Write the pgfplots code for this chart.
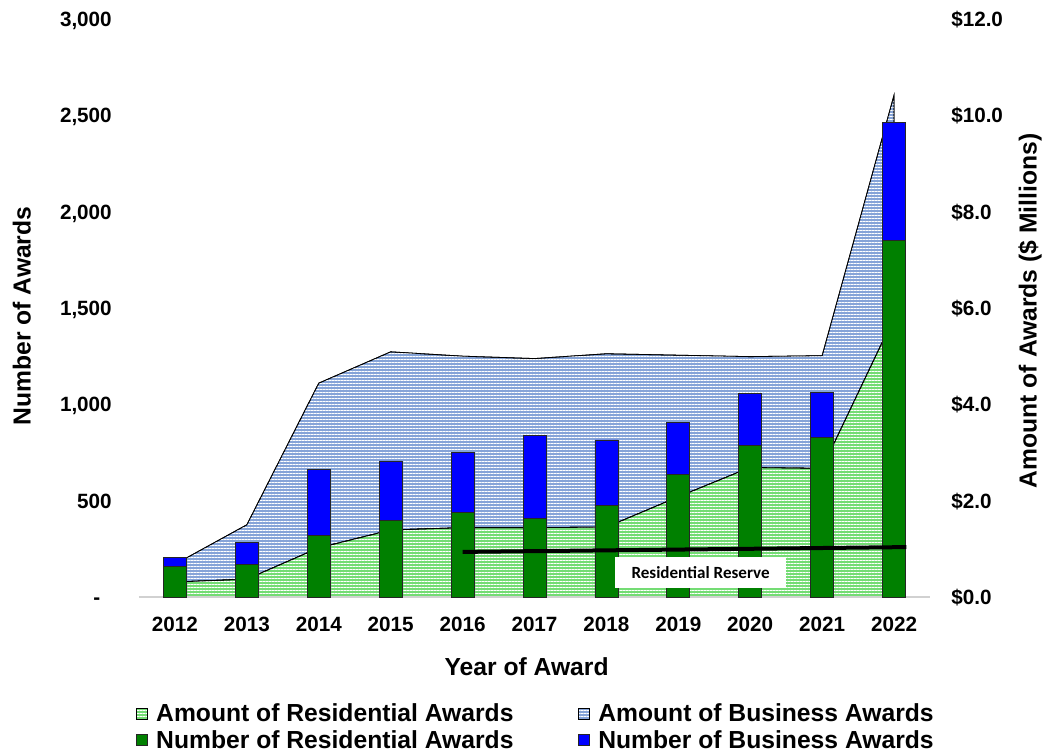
\documentclass[border=0pt]{standalone}
\usepackage{pgfplots}
\usepackage{pgfplotstable}
\pgfplotsset{compat=1.18}
\usetikzlibrary{patterns.meta}
\usepackage{fontspec}
\setmainfont{Liberation Sans}
\newfontfamily\carlito{Carlito}
\definecolor{resarea}{HTML}{74DC74}
\definecolor{busarea}{HTML}{86A4D8}
\definecolor{resbar}{HTML}{008000}
\definecolor{busbar}{HTML}{0000FF}

\pgfplotstableread{
year resamt busamt resnum busnum
2012 0.31 0.37 160 46
2013 0.37 1.13 168 116
2014 1.02 3.42 320 344
2015 1.39 3.70 398 308
2016 1.44 3.56 440 311
2017 1.44 3.51 410 429
2018 1.45 3.60 474 341
2019 2.08 2.94 637 270
2020 2.69 2.30 785 270
2021 2.67 2.34 829 235
2022 5.80 4.62 1849 616
}\awards

\pgfplotstableread{
x y
2016 234
2022.17 259
}\reserve

\pgfplotsset{
  common/.style={width=593.25pt,height=433.5pt,scale only axis,
    xmin=2011.5,xmax=2022.5,at={(0pt,0pt)},anchor=south west,
    major tick length=0pt,
    tick label style={font=\bfseries\fontsize{15.5}{18}\selectfont},
    label style={font=\bfseries\fontsize{18.5}{22}\selectfont}},
  resareastyle/.style={fill=resarea,draw=black,line width=0.6pt,
    postaction={pattern={Lines[angle=0,distance=2.25pt,line width=0.75pt]},pattern color=white}},
  busareastyle/.style={fill=busarea,draw=black,line width=0.6pt,
    postaction={pattern={Lines[angle=0,distance=2.25pt,line width=0.75pt]},pattern color=white}},
}

\begin{document}
\begin{tikzpicture}
\path[use as bounding box] (-104.25pt,-119.25pt) rectangle (679.5pt,447.75pt);

% right axis: stacked areas
\begin{axis}[common,
  ymin=0,ymax=12,
  axis x line=none,
  axis y line*=right,
  y axis line style={draw=none},
  ytick={0,2,4,6,8,10,12},
  yticklabels={\$0.0,\$2.0,\$4.0,\$6.0,\$8.0,\$10.0,\$12.0},
  yticklabel style={anchor=base west,inner sep=0pt,xshift=15.75pt,yshift=-5.6pt},
  ylabel={Amount of Awards (\$ Millions)},
  ylabel style={at={(axis description cs:1.1264,0.495)},anchor=center},
  stack plots=y,
]
\addplot[resareastyle] table[x=year,y=resamt]{\awards} \closedcycle;
\addplot[busareastyle] table[x=year,y=busamt]{\awards} \closedcycle;
\end{axis}

% left axis: stacked bars
\begin{axis}[common,
  ymin=0,ymax=3000,
  ybar stacked,
  bar width=17.25pt,
  axis x line*=bottom,
  axis y line*=left,
  x axis line style={draw=black!18,line width=1pt,-},
  y axis line style={draw=none},
  xtick={2012,2013,2014,2015,2016,2017,2018,2019,2020,2021,2022},
  xticklabels={2012,2013,2014,2015,2016,2017,2018,2019,2020,2021,2022},
  xticklabel style={anchor=base,inner sep=0pt,yshift=-25.5pt},
  ytick={0,500,1000,1500,2000,2500,3000},
  yticklabels={-\hphantom{0},500,{1,000},{1,500},{2,000},{2,500},{3,000}},
  yticklabel style={anchor=base east,inner sep=0pt,xshift=-20.25pt,yshift=-5.6pt},
  ylabel={Number of Awards},
  ylabel style={at={(axis description cs:-0.148,0.486)},anchor=center},
  xlabel={Year of Award},
  xlabel style={at={(axis description cs:0.49,-0.121)},anchor=center},
  legend columns=2,
  legend cell align=left,
  legend image code/.code={\draw[#1,line width=0.6pt] (0pt,-4pt) rectangle (8pt,4pt);},
  legend style={at={(axis description cs:-0.004,-0.180)},anchor=north west,
    draw=none,fill=none,inner sep=0pt,row sep=0.8pt,
    font=\bfseries\fontsize{18.5}{20}\selectfont,
    /tikz/every odd column/.append style={column sep=4.5pt},
    /tikz/every even column/.append style={column sep=46.5pt}},
]
\addlegendimage{resareastyle}
\addlegendentry{Amount of Residential Awards}
\addlegendimage{busareastyle}
\addlegendentry{Amount of Business Awards}
\addplot[fill=resbar,draw=black!85,line width=0.6pt] table[x=year,y=resnum]{\awards};
\addlegendentry{Number of Residential Awards}
\addplot[fill=busbar,draw=black!85,line width=0.6pt] table[x=year,y=busnum]{\awards};
\addlegendentry{Number of Business Awards}
\end{axis}

% overlay: reserve line and label
\begin{axis}[common,ymin=0,ymax=3000,hide axis,clip=false]
\addplot[black,line width=3pt] table[x=x,y=y]{\reserve};
\node[fill=white,minimum width=128.25pt,minimum height=23.25pt,inner sep=0pt,
  font=\carlito\bfseries\fontsize{12.8}{15}\selectfont]
  at (axis cs:2019.31,127) {Residential Reserve};
\end{axis}
\end{tikzpicture}
\end{document}
